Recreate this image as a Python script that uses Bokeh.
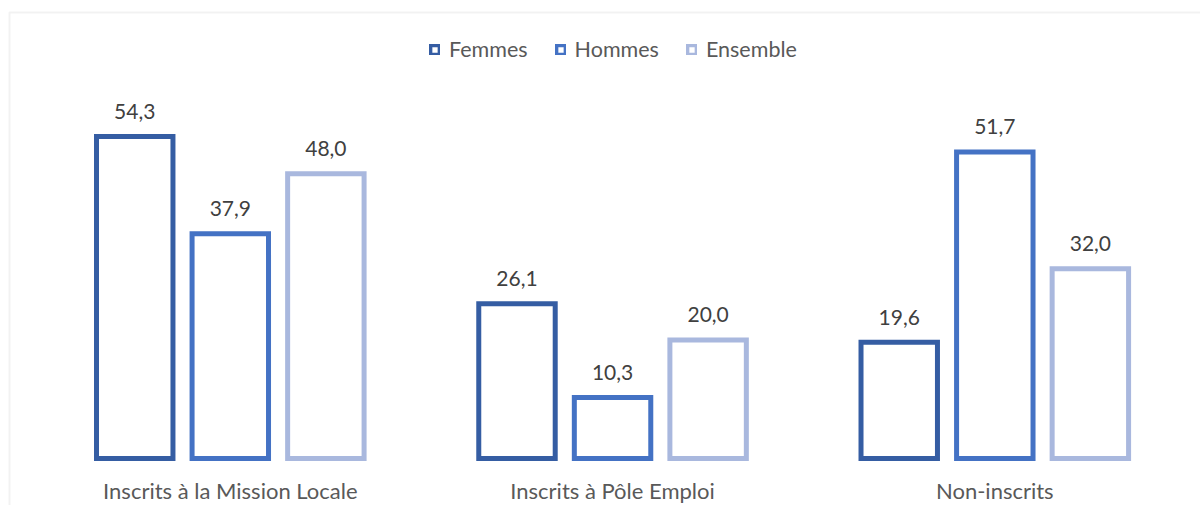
from bokeh.plotting import figure
from bokeh.models import ColumnDataSource, Range1d, Legend, LegendItem, BoxAnnotation
from bokeh.transform import dodge
from bokeh.core.properties import value
from bokeh.embed import file_html
from bokeh.resources import INLINE

categories = ["Inscrits à la Mission Locale", "Inscrits à Pôle Emploi", "Non-inscrits"]
femmes = [54.3, 26.1, 19.6]
hommes = [37.9, 10.3, 51.7]
ensemble = [48.0, 20.0, 32.0]
series_names = ["Femmes", "Hommes", "Ensemble"]
colors = ["#355DA3", "#4472C4", "#A9B8DE"]

FONT = "Lato"
W, H = 1200, 505
px_x = 382.25          # pixels per category unit
px_y = 5.93            # pixels per value unit
x0_px = 229.8          # canvas x of first category center
y0_px = 458.0          # canvas y of zero line

x_start = -x0_px / px_x
x_end = x_start + W / px_x
y_end = y0_px / px_y
y_start = y_end - H / px_y

p = figure(width=W, height=H, output_backend="svg", toolbar_location=None,
           x_range=Range1d(x_start, x_end), y_range=Range1d(y_start, y_end),
           min_border=0, min_border_left=0, min_border_right=0,
           min_border_top=0, min_border_bottom=0)
p.axis.visible = False
p.grid.visible = False
p.outline_line_color = None
p.background_fill_color = "white"
p.border_fill_color = "white"

def fmt(vals):
    return [f"{v:.1f}".replace(".", ",") for v in vals]

xs = list(range(len(categories)))
src = ColumnDataSource(dict(x=xs, cat=categories, Femmes=femmes, Hommes=hommes, Ensemble=ensemble,
                            lf=fmt(femmes), lh=fmt(hommes), le=fmt(ensemble),
                            zero=[0] * len(categories)))

# chart border (only left and top edges fall inside the canvas)
p.add_layout(BoxAnnotation(left=x_start + 9 / px_x, top=y_end - 12 / px_y,
                           right=x_end + 5, bottom=y_start - 50,
                           fill_alpha=0, line_color="#D3D3D3", line_width=2))

offsets = [-0.25, 0.0, 0.25]
label_cols = ["lf", "lh", "le"]
legend_items = []
for name, col, off, lc in zip(series_names, colors, offsets, label_cols):
    p.vbar(x=dodge("x", off, range=p.x_range), top=name, bottom=0, width=0.2,
           source=src, fill_color="white", line_color=col, line_width=5,
           line_join="miter")
    p.text(x=dodge("x", off, range=p.x_range), y=name, text=lc, source=src,
           text_align="center", text_baseline="middle", y_offset=-25,
           text_font=value(FONT), text_font_size="21px", text_color="#404040")
    # legend swatch (thinner outline than the bars); its single row is not drawn
    sw_src = ColumnDataSource(dict(x=[0.0], top=[float("nan")]))
    sw = p.vbar(x="x", top="top", bottom=0, width=0.2, source=sw_src,
                fill_color="white", line_color=col, line_width=3.5,
                line_join="miter")
    legend_items.append(LegendItem(label=name, renderers=[sw], index=0))

# category labels
p.text(x="x", y="zero", text="cat", source=src, text_align="center",
       text_baseline="middle", y_offset=32, text_font=value(FONT),
       text_font_size="22px", text_color="#595959")

legend = Legend(items=legend_items, orientation="horizontal",
                location=(429, H - 64),
                border_line_color=None, background_fill_alpha=0,
                label_text_font=FONT, label_text_font_size="21.5px",
                label_text_color="#595959", glyph_width=11, glyph_height=11,
                label_standoff=9, spacing=27, padding=0, margin=0,
                label_height=30)
p.add_layout(legend)

open("out.html", "w").write(file_html(p, INLINE))
